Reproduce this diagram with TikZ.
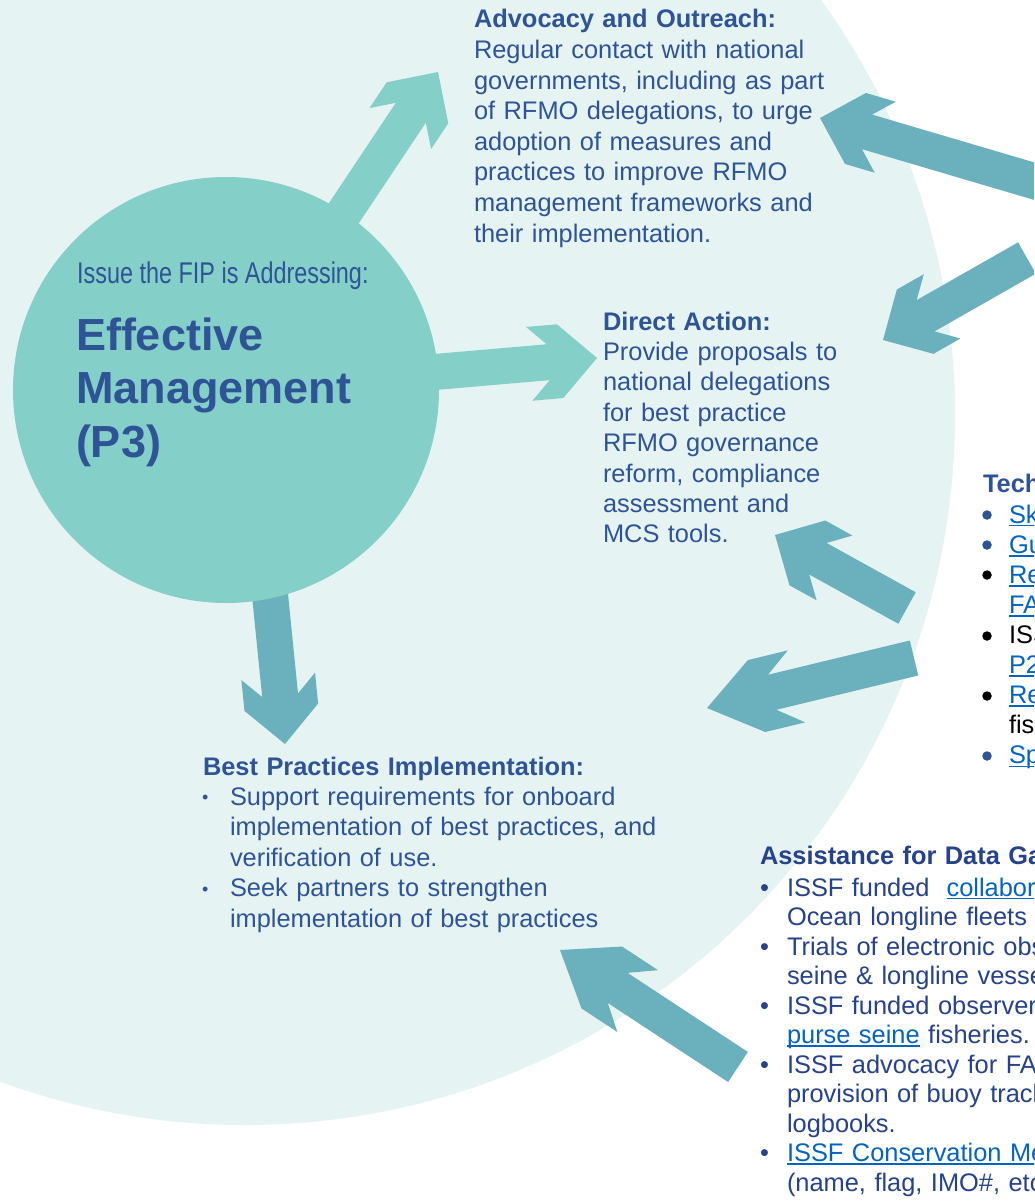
\documentclass[tikz,border=0pt]{standalone}
\usepackage{fontspec}
\setmainfont{Liberation Sans}
\usepackage{graphicx}
\usetikzlibrary{calc}
\definecolor{bgc}{HTML}{E5F3F3}
\definecolor{lightteal}{HTML}{84CFC7}
\definecolor{darkteal}{HTML}{6AB1BD}
\definecolor{txtblue}{HTML}{2F5496}
\definecolor{txtnavy}{HTML}{25428A}
\definecolor{linkblue}{HTML}{0563C1}
\newcommand\lnk[1]{\leavevmode{\color{linkblue}\setbox0\hbox{#1}\rlap{\rule[-3.4pt]{\wd0}{1.6pt}}\box0}}
% block arrow: #1 tail, #2 tip, #3 front, #4 notch, #5 back, #6 colour
\newcommand\barrow[6]{%
  \fill[#6] let \p1=(#1), \p2=(#2), \n1={atan2(\y1-\y2,\x1-\x2)} in
    (#2) -- ($(#2)+(\n1:#3pt)+(\n1+90:37pt)$)
    -- ($(#2)+(\n1:#5pt)+(\n1+90:37pt)$)
    -- ($(#2)+(\n1:#4pt)+(\n1+90:18pt)$)
    -- ($(#1)+(\n1+90:18pt)$)
    -- ($(#1)+(\n1-90:18pt)$)
    -- ($(#2)+(\n1:#4pt)+(\n1-90:18pt)$)
    -- ($(#2)+(\n1:#5pt)+(\n1-90:37pt)$)
    -- ($(#2)+(\n1:#3pt)+(\n1-90:37pt)$)
    -- cycle;}
\begin{document}
\begin{tikzpicture}[x=1pt,y=-1pt,
  txt/.style={inner sep=0pt, outer sep=0pt, anchor=base west, align=left, text width=600pt, text=txtblue, font=\fontsize{25.4}{30.5}\selectfont},
  bul/.style={inner sep=0pt, outer sep=0pt, anchor=base west, font=\fontsize{25.4}{30.5}\selectfont},
  dotbul/.style={circle, inner sep=0pt, minimum size=9.5pt},
  smallbul/.style={inner sep=0pt, outer sep=0pt, anchor=base west, text=txtblue, font=\fontsize{18}{20}\selectfont}]
\useasboundingbox (0,0) rectangle (1034,1204);
\clip (0,0) rectangle (1034,1204);
\fill[white] (0,0) rectangle (1034,1204);
% large pale background disc
\fill[bgc] (245,415) circle[radius=710];

% arrow ends
\coordinate (t6) at (267,565);  \coordinate (h6) at (285,744);
\coordinate (h7) at (438,72);
\coordinate (h8) at (597,358);
\coordinate (ta1) at (1098,200); \coordinate (ha1) at (820,118);
\coordinate (ta2) at (1027,258); \coordinate (ha2) at (883,340);
\coordinate (ta3) at (907,608);  \coordinate (ha3) at (775,535);
\coordinate (ta4) at (914,658);  \coordinate (ha4) at (707,708);
\coordinate (ta5) at (738,1067); \coordinate (ha5) at (560,950);

\barrow{t6}{h6}{37}{49}{68}{darkteal}
\node[circle, fill=lightteal, minimum size=426pt, inner sep=0pt] (core) at (226,390) {};
\barrow{core.center}{h7}{37}{49}{68}{lightteal}
\barrow{core.center}{h8}{37}{49}{68}{lightteal}
\barrow{ta1}{ha1}{37}{49}{68}{darkteal}
\barrow{ta2}{ha2}{37}{49}{68}{darkteal}
\barrow{ta3}{ha3}{37}{49}{68}{darkteal}
\barrow{ta4}{ha4}{51}{67}{92}{darkteal}
\barrow{ta5}{ha5}{50}{69}{93}{darkteal}

% central issue
\node[inner sep=0pt, anchor=base west, text=txtblue, font=\fontsize{30}{34}\selectfont] (issue) at (77,283) {\scalebox{0.78}[1]{Issue the FIP is Addressing:}};
\node[txt, font=\fontsize{45}{53.5}\selectfont\bfseries] (effm) at (76,350) {Effective\\Management\\(P3)};

% advocacy
\node[txt, font=\fontsize{25.4}{30.6}\selectfont] (adv) at (474,28) {\textbf{Advocacy and Outreach:}\\Regular contact with national\\governments, including as part\\of RFMO delegations, to urge\\adoption of measures and\\practices to improve RFMO\\management frameworks and\\their implementation.};

% direct action
\node[txt, font=\fontsize{25.4}{30.4}\selectfont] (dir) at (603,330) {\textbf{Direct Action:}\\Provide proposals to\\national delegations\\for best practice\\RFMO governance\\reform, compliance\\assessment and\\MCS tools.};

% best practices
\node[txt] (bph) at (203,775) {\textbf{Best Practices Implementation:}};
\node[smallbul] (bpb1) at (202,803.5) {•};
\node[smallbul] (bpb2) at (202,895) {•};
\node[txt, font=\fontsize{25.4}{30.5}\selectfont] (bp1) at (230,805) {Support requirements for onboard\\implementation of best practices, and\\verification of use.};
\node[txt] (bp2) at (230,896.5) {Seek partners to strengthen\\implementation of best practices};

% technical (cut at right edge)
\node[txt] (tech) at (983,492) {\textbf{Technical Assistance:}};
\node[dotbul, fill=txtblue] (tb1) at (987,515) {};
\node[dotbul, fill=txtblue] (tb2) at (987,545) {};
\node[dotbul, fill=black] (tb3) at (987,575) {};
\node[dotbul, fill=black] (tb4) at (987,636) {};
\node[dotbul, fill=black] (tb5) at (987,696) {};
\node[dotbul, fill=txtblue] (tb6) at (987,756) {};
\node[txt, font=\fontsize{25.4}{30.1}\selectfont] (techl) at (1009,523) {\lnk{Skipper workshops}\\\lnk{Guidebooks}\\\lnk{Reports}\\\lnk{FAD}\\{\color{black}ISSF}\\\lnk{P2}\\\lnk{Research}\\{\color{black}fisheries}\\\lnk{Species}};

% data gathering
\node[txt, text=txtnavy] (dgh) at (760,864) {\textbf{Assistance for Data Gathering:}};
\node[bul, text=txtnavy] (db1) at (760,896) {•};
\node[bul, text=txtnavy] (db2) at (760,955) {•};
\node[bul, text=txtnavy] (db3) at (760,1014) {•};
\node[bul, text=txtnavy] (db4) at (760,1073) {•};
\node[bul, text=txtnavy] (db5) at (760,1161.5) {•};
\node[txt, text=txtnavy, font=\fontsize{25.4}{29.5}\selectfont] (dgl) at (787,896) {ISSF funded\ \ \lnk{collaboration with}\\Ocean longline fleets to\\Trials of electronic observers\\seine \& longline vessels\\ISSF funded observer\\\lnk{purse seine} fisheries.\\ISSF advocacy for FAD\\provision of buoy tracking\\logbooks.\\\lnk{ISSF Conservation Measures}\\(name, flag, IMO\#, etc.)};
\end{tikzpicture}
\end{document}
